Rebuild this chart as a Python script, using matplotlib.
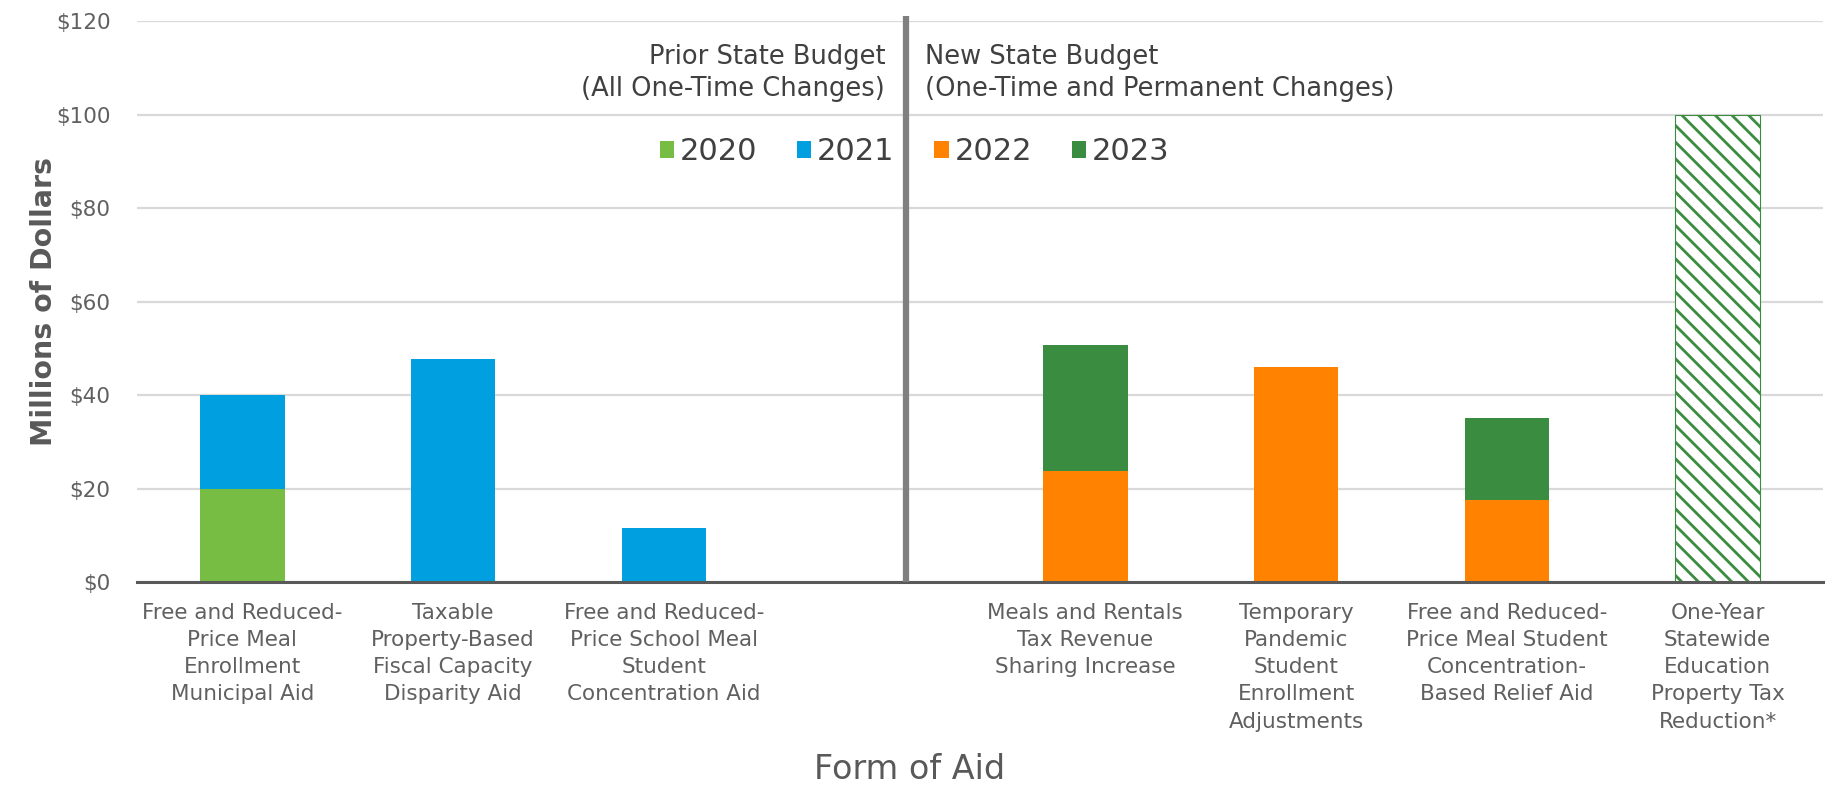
import matplotlib
matplotlib.use("Agg")
import matplotlib.pyplot as plt
from matplotlib.patches import Patch
import numpy as np

# chart data
categories = ["Free and Reduced-\nPrice Meal\nEnrollment\nMunicipal Aid",
              "Taxable\nProperty-Based\nFiscal Capacity\nDisparity Aid",
              "Free and Reduced-\nPrice School Meal\nStudent\nConcentration Aid",
              "",
              "Meals and Rentals\nTax Revenue\nSharing Increase",
              "Temporary\nPandemic\nStudent\nEnrollment\nAdjustments",
              "Free and Reduced-\nPrice Meal Student\nConcentration-\nBased Relief Aid",
              "One-Year\nStatewide\nEducation\nProperty Tax\nReduction*"]
y2020 = [20, 0, 0, 0, 0, 0, 0, 0]
y2021 = [20, 47.7, 11.6, 0, 0, 0, 0, 0]
y2022 = [0, 0, 0, 0, 23.7, 46.0, 17.6, 0]
y2023 = [0, 0, 0, 0, 27.1, 0, 17.5, 0]
tax_reduction = [0, 0, 0, 0, 0, 0, 0, 100]
years = ["2020", "2021", "2022", "2023"]
yticks = [0, 20, 40, 60, 80, 100, 120]

colors = {"2020": "#77BC43", "2021": "#009FDF", "2022": "#FF8200", "2023": "#3A8C40"}
txt = "#595959"

plt.rcParams['font.family'] = ['DejaVu Sans']
plt.rcParams['hatch.linewidth'] = 2.0

fig = plt.figure(figsize=(18.29, 7.85), dpi=100)
ax = fig.add_axes([0.0749, 0.2586, 0.9218, 0.7146])

x = np.arange(len(categories))
w = 0.4
b1 = np.array(y2020)
b2 = b1 + np.array(y2021)
b3 = b2 + np.array(y2022)
ax.bar(x, y2020, w, color=colors["2020"], zorder=3)
ax.bar(x, y2021, w, bottom=b1, color=colors["2021"], zorder=3)
ax.bar(x, y2022, w, bottom=b2, color=colors["2022"], zorder=3)
ax.bar(x, y2023, w, bottom=b3, color=colors["2023"], zorder=3)
ax.bar(x, tax_reduction, w, color="white", edgecolor=colors["2023"], hatch="\\\\",
       linewidth=0.8, zorder=3)

ax.set_xlim(-0.5, 7.5)
ax.set_ylim(0, 120)
ax.set_yticks(yticks)
ax.set_yticklabels(["$%d" % v for v in yticks])
ax.set_xticks(x)
ax.set_xticklabels(categories, linespacing=1.45)
ax.tick_params(axis="x", length=0, pad=15, labelsize=15.5, labelcolor="#606060")
ax.tick_params(axis="y", length=0, pad=19, labelsize=15.5, labelcolor="#606060")

ax.grid(axis="y", color="#D9D9D9", linewidth=1.6, zorder=0)
for s in ["left", "right", "top"]:
    ax.spines[s].set_visible(False)
ax.spines["bottom"].set_color("#595959")
ax.spines["bottom"].set_linewidth(2.2)
ax.spines["bottom"].set_zorder(4)

ax.set_ylabel("Millions of Dollars", fontsize=20.5, fontweight="bold", color=txt)
ax.yaxis.set_label_coords(-0.047, 0.5)
ax.set_xlabel("Form of Aid", fontsize=24, color=txt)
ax.xaxis.set_label_coords(0.458, -0.305)

# divider between budgets
div = 3.15
ax.plot([div, div], [0, 121], color="#7F7F7F", linewidth=4.5, zorder=5, clip_on=False,
        solid_capstyle="butt")

ax.text(div - 0.1, 108.8, "Prior State Budget\n(All One-Time Changes)", ha="right", va="center",
        fontsize=18.5, color="#404040", linespacing=1.3)
ax.text(div + 0.09, 108.8, "New State Budget\n(One-Time and Permanent Changes)", ha="left", va="center",
        fontsize=18.5, color="#404040", linespacing=1.3)

handles = [Patch(facecolor=colors[y], edgecolor="none") for y in years]
leg = ax.legend(handles, years, ncol=4, loc="center", bbox_to_anchor=(3.19, 92),
                bbox_transform=ax.transData, frameon=False, handlelength=0.46, handleheight=0.46,
                handletextpad=0.2, columnspacing=1.3, prop={"size": 22})
for t in leg.get_texts():
    t.set_color("#404040")

fig.savefig("out.png", dpi=100, facecolor="white")
